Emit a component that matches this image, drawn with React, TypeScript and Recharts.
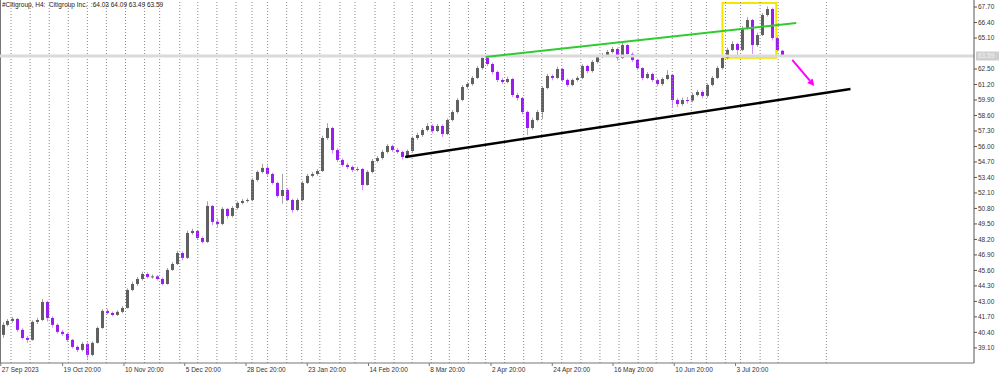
import React from "react";
import {
  ComposedChart,
  Bar,
  XAxis,
  YAxis,
  ReferenceLine,
  ReferenceArea,
} from "recharts";

// ---- Candle data (H4, Citigroup) ----
const opens = [
  40.19, 41.03, 41.36, 41.53, 40.61, 39.93, 39.77, 41.28, 41.44, 42.95,
  41.61, 41.03, 40.44, 40.27, 39.77, 39.18, 38.93, 39.43, 38.51, 39.52,
  40.77, 42.2, 42.03, 41.86, 42.12, 42.45, 43.96, 44.46, 44.88, 45.3,
  45.05, 45.1, 44.88, 44.46, 45.64, 46.14, 47.06, 46.65, 48.74, 48.91,
  48.32, 47.99, 51.01, 49.67, 49.5, 50.76, 50.17, 50.84, 51.26, 51.43,
  51.51, 53.19, 53.86, 54.2, 53.69, 52.94, 51.85, 52.35, 51.51, 50.67,
  51.51, 52.94, 53.53, 53.69, 53.94, 56.71, 57.55, 55.7, 54.87, 54.45,
  54.28, 54.03, 54.11, 52.77, 53.86, 54.78, 55.03, 55.54, 56.04, 55.7,
  55.54, 55.12, 55.62, 56.71, 56.96, 57.38, 57.72, 57.3, 57.72, 57.05,
  58.22, 58.89, 59.9, 60.99, 61.24, 61.75, 62.58, 63.42, 62.92, 62.25,
  61.58, 61.41, 61.66, 60.32, 60.07, 58.89, 57.55, 58.22, 58.89, 60.91,
  61.91, 61.75, 62.5, 61.58, 61.16, 61.58, 61.75, 62.75, 62.33, 63.09,
  63.51, 63.68, 63.93, 64.18, 63.42, 64.51, 63.76, 63.26, 62.58, 61.75,
  62.08, 61.58, 61.24, 61.66, 62.0, 59.9, 59.56, 59.9, 59.85, 60.32,
  60.57, 60.24, 61.16, 61.75, 62.58, 63.42, 64.1, 64.6, 64.1, 65.94,
  66.61, 64.51, 65.35, 67.03, 67.53, 65.1, 64.03,
];
const highs = [
  41.25, 41.52, 41.7, 41.6, 40.75, 40.1, 41.4, 41.62, 43.2, 43.05,
  41.75, 41.15, 40.6, 40.35, 39.85, 39.3, 39.6, 39.55, 39.65, 40.9,
  42.35, 42.4, 42.15, 42.25, 42.6, 44.1, 44.65, 45.05, 45.5, 45.45,
  45.25, 45.2, 45.0, 45.8, 46.3, 47.25, 47.2, 48.95, 49.1, 49.0,
  48.45, 51.4, 51.1, 49.9, 50.9, 50.85, 51.0, 51.4, 51.6, 51.65,
  53.35, 54.0, 54.55, 54.4, 53.8, 53.05, 53.7, 52.5, 51.6, 51.65,
  53.1, 53.7, 53.85, 54.1, 56.9, 57.95, 57.65, 55.85, 55.0, 54.6,
  54.4, 54.3, 54.2, 54.0, 54.95, 55.2, 55.7, 56.2, 56.15, 55.85,
  55.65, 55.75, 56.85, 57.15, 57.55, 57.95, 57.85, 57.9, 57.85, 58.35,
  59.05, 60.05, 61.15, 61.4, 61.9, 62.75, 63.7, 63.55, 63.05, 62.35,
  61.75, 61.85, 61.75, 60.5, 60.15, 59.0, 58.4, 59.05, 61.05, 62.1,
  62.05, 62.7, 62.6, 61.7, 61.7, 61.9, 62.9, 62.85, 63.25, 63.65,
  63.85, 64.1, 64.35, 64.3, 64.8, 64.6, 63.9, 63.35, 62.65, 62.25,
  62.2, 61.7, 61.8, 62.4, 62.1, 60.05, 60.1, 60.15, 60.5, 60.75,
  60.7, 61.3, 61.9, 62.75, 63.6, 64.3, 64.85, 64.7, 66.1, 66.85,
  66.7, 65.55, 67.2, 67.75, 67.65, 65.25, 64.09,
];
const lows = [
  39.95, 40.9, 41.2, 40.45, 39.8, 39.55, 39.7, 41.1, 41.35, 41.3,
  40.8, 40.3, 40.1, 39.6, 39.05, 38.75, 38.8, 38.2, 38.4, 39.45,
  40.7, 41.9, 41.75, 41.78, 42.0, 42.4, 43.85, 44.3, 44.75, 44.9,
  44.9, 44.75, 44.35, 44.4, 45.55, 46.05, 46.45, 46.55, 48.6, 48.15,
  47.85, 47.9, 49.4, 49.2, 49.4, 49.95, 50.05, 50.7, 51.15, 51.3,
  51.4, 53.05, 53.75, 53.55, 52.8, 51.7, 51.2, 51.4, 50.45, 50.55,
  51.4, 52.85, 53.4, 53.55, 53.85, 56.55, 55.4, 54.7, 54.3, 54.1,
  53.85, 53.9, 52.35, 52.7, 53.75, 54.65, 54.9, 55.4, 55.55, 55.4,
  54.9, 55.0, 55.55, 56.55, 56.8, 57.25, 57.1, 57.2, 56.8, 56.95,
  58.1, 58.75, 59.8, 60.85, 61.1, 61.65, 62.45, 62.75, 62.05, 61.4,
  61.25, 61.3, 60.15, 59.85, 58.7, 56.95, 57.4, 58.1, 58.3, 60.8,
  61.55, 61.65, 61.4, 61.0, 61.05, 61.45, 61.65, 62.15, 62.2, 62.95,
  63.4, 63.55, 63.8, 63.2, 63.35, 63.6, 63.1, 62.4, 61.55, 61.65,
  61.4, 61.05, 61.1, 61.55, 59.25, 59.3, 59.4, 59.6, 59.7, 60.2,
  60.05, 60.1, 61.05, 61.65, 62.45, 63.3, 64.0, 63.55, 64.0, 65.8,
  63.75, 64.35, 65.25, 66.9, 64.9, 63.95, 63.49,
];
const closes = [
  41.03, 41.36, 41.53, 40.61, 39.93, 39.77, 41.28, 41.44, 42.95, 41.61,
  41.03, 40.44, 40.27, 39.77, 39.18, 38.93, 39.43, 38.51, 39.52, 40.77,
  42.2, 42.03, 41.86, 42.12, 42.45, 43.96, 44.46, 44.88, 45.3, 45.05,
  45.1, 44.88, 44.46, 45.64, 46.14, 47.06, 46.65, 48.74, 48.91, 48.32,
  47.99, 51.01, 49.67, 49.5, 50.76, 50.17, 50.84, 51.26, 51.43, 51.51,
  53.19, 53.86, 54.2, 53.69, 52.94, 51.85, 52.35, 51.51, 50.67, 51.51,
  52.94, 53.53, 53.69, 53.94, 56.71, 57.55, 55.7, 54.87, 54.45, 54.28,
  54.03, 54.11, 52.77, 53.86, 54.78, 55.03, 55.54, 56.04, 55.7, 55.54,
  55.12, 55.62, 56.71, 56.96, 57.38, 57.72, 57.3, 57.72, 57.05, 58.22,
  58.89, 59.9, 60.99, 61.24, 61.75, 62.58, 63.42, 62.92, 62.25, 61.58,
  61.41, 61.66, 60.32, 60.07, 58.89, 57.55, 58.22, 58.89, 60.91, 61.91,
  61.75, 62.5, 61.58, 61.16, 61.58, 61.75, 62.75, 62.33, 63.09, 63.51,
  63.68, 63.93, 64.18, 63.42, 64.51, 63.76, 63.26, 62.58, 61.75, 62.08,
  61.58, 61.24, 61.66, 62.0, 59.9, 59.56, 59.9, 59.85, 60.32, 60.57,
  60.24, 61.16, 61.75, 62.58, 63.42, 64.1, 64.6, 64.1, 65.94, 66.61,
  64.51, 65.35, 67.03, 67.53, 65.1, 64.1, 63.59,
];

// total bar slots on the time axis (data + empty space on the right)
const totalSlots = 195;

// time axis labels and their positions (in bar slots)
const timeLabels = [
  "27 Sep 2023", "19 Oct 20:00", "10 Nov 20:00", "5 Dec 20:00", "28 Dec 20:00",
  "23 Jan 20:00", "14 Feb 20:00", "8 Mar 20:00", "2 Apr 20:00", "24 Apr 20:00",
  "16 May 20:00", "10 Jun 20:00", "3 Jul 20:00",
];
const timeTicks = [0.15, 12.47, 24.7, 36.8, 49.0, 61.2, 73.4, 85.5, 97.8, 110.0, 122.1, 134.3, 146.5];

// vertical dotted grid (period separators), in bar slots
const gridSlots = [
  2.2, 6.0, 9.8, 13.6, 17.4, 21.2, 25.0, 28.8, 31.8, 35.8, 39.4, 43.2, 47.0, 50.2,
  53.3, 57.1, 60.1, 63.7, 67.7, 70.7, 74.7, 78.5, 82.1, 85.9, 89.5, 93.3, 96.7,
  100.5, 104.3, 107.9, 111.9, 115.7, 119.5, 123.3, 127.1, 130.7, 133.9, 137.7,
  140.7, 144.5, 147.5, 151.4, 155.0, 164.6,
];

// price axis
const priceTicks = [
  39.1, 40.4, 41.7, 43.0, 44.3, 45.6, 46.9, 48.2, 49.5, 50.8, 52.1, 53.4, 54.7,
  56.0, 57.3, 58.6, 59.9, 61.2, 62.5, 65.1, 66.4, 67.7,
];
const priceDomain = [37.83, 68.29];
const lastPrice = 63.59;

// drawn annotations (slot, price)
const greenLine = [{ x: 96.7, y: 63.51 }, { x: 158.6, y: 66.36 }];
const blackLine = [{ x: 80.7, y: 55.12 }, { x: 169.4, y: 60.82 }];
const yellowBox = { x1: 143.9, x2: 154.6, y1: 63.45, y2: 68.04 };
const arrowLine = [{ x: 157.8, y: 63.26 }, { x: 162.2, y: 61.07 }];

const rows = Array.from({ length: totalSlots }, (_, i) =>
  i < closes.length
    ? { slot: i, open: opens[i], high: highs[i], low: lows[i], close: closes[i] }
    : { slot: i, open: null, high: null, low: null, close: null }
);

const FONT = "'Liberation Sans', Arial, sans-serif";

const Candle = (props: any) => {
  const { x, y, width, height, payload } = props;
  if (!payload || payload.open == null || !isFinite(y) || !isFinite(height)) return null;
  const { open, close, high, low } = payload;
  const top = Math.min(y, y + height);
  const h = Math.abs(height);
  const span = high - low || 1;
  const toY = (v: number) => top + ((high - v) / span) * h;
  const up = close >= open;
  const cx = Math.round(x + width / 2) + 0.5;
  const bTop = toY(Math.max(open, close));
  const bBot = toY(Math.min(open, close));
  return (
    <g>
      <line x1={cx} x2={cx} y1={top} y2={top + h} stroke={up ? "#a3a3a3" : "#cf8dff"} strokeWidth={1} />
      <rect
        x={cx - 1.5}
        y={bTop}
        width={3}
        height={Math.max(1, bBot - bTop)}
        fill={up ? "#606060" : "#9a1cf0"}
      />
    </g>
  );
};

const TimeTick = (props: any) => {
  const { x, y, payload } = props;
  const idx = timeTicks.indexOf(payload.value);
  const label = idx >= 0 ? timeLabels[idx] : "";
  return (
    <g>
      <line x1={x} x2={x} y1={y} y2={y + 3} stroke="#777" />
      <text x={x + 1} y={y + 9} fontSize={6.5} fontFamily={FONT} fill="#333" textAnchor="start">
        {label}
      </text>
    </g>
  );
};

const PriceTag = (props: any) => {
  const vb = props.viewBox || {};
  const right = (vb.x || 0) + (vb.width || 0);
  const yy = vb.y || 0;
  return (
    <g>
      <rect x={right + 2} y={yy - 4.5} width={23} height={9} fill="#cfcfcf" />
      <text x={right + 4} y={yy + 2.3} fontSize={6.5} fontFamily={FONT} fill="#f3f3f3">
        {lastPrice.toFixed(2)}
      </text>
    </g>
  );
};

const Arrow = (props: any) => {
  const { x1, y1, x2, y2 } = props;
  if (![x1, y1, x2, y2].every((v) => isFinite(v))) return null;
  const ang = Math.atan2(y2 - y1, x2 - x1);
  const L = 7;
  const W = 3.5;
  const bx = x2 - L * Math.cos(ang);
  const by = y2 - L * Math.sin(ang);
  const px = -Math.sin(ang) * W;
  const py = Math.cos(ang) * W;
  return (
    <g>
      <line x1={x1} y1={y1} x2={bx} y2={by} stroke="#ff00ff" strokeWidth={2} />
      <polygon points={`${x2},${y2} ${bx + px},${by + py} ${bx - px},${by - py}`} fill="#ff00ff" />
    </g>
  );
};

export default function App() {
  return (
    <div style={{ position: "absolute", left: 0, top: 0, width: 1000, height: 375, background: "#fff" }}>
      <ComposedChart
        width={1000}
        height={375}
        data={rows}
        margin={{ top: 0, right: 0, bottom: 0, left: 0 }}
        barCategoryGap={0}
      >
        <XAxis
          xAxisId="t"
          type="number"
          domain={[0, totalSlots]}
          allowDataOverflow
          ticks={timeTicks}
          interval={0}
          height={12}
          tickSize={0}
          tickMargin={0}
          tickLine={false}
          axisLine={{ stroke: "#777" }}
          tick={<TimeTick />}
        />
        <XAxis dataKey="slot" type="category" hide height={0} />
        <YAxis
          orientation="right"
          type="number"
          domain={priceDomain}
          allowDataOverflow
          ticks={priceTicks}
          interval={0}
          width={26}
          tickSize={3}
          tickMargin={1}
          axisLine={{ stroke: "#555" }}
          tickLine={{ stroke: "#555" }}
          tick={{ fontSize: 6.5, fontFamily: FONT, fill: "#333" }}
          tickFormatter={(v: number) => v.toFixed(2)}
        />
        {gridSlots.map((g) => (
          <ReferenceLine key={"g" + g} xAxisId="t" x={g} stroke="#8a8a8a" strokeDasharray="1 2" />
        ))}
        <ReferenceLine xAxisId="t" x={0.1} stroke="#777" />
        <ReferenceLine y={lastPrice} stroke="#dadada" strokeWidth={3} label={(p: any) => <PriceTag {...p} />} />
        <Bar
          dataKey={(d: any) => (d.open == null ? null : [d.low, d.high])}
          shape={<Candle />}
          isAnimationActive={false}
        />
        <ReferenceLine xAxisId="t" segment={greenLine} stroke="#2fcc2f" strokeWidth={2} />
        <ReferenceLine xAxisId="t" segment={blackLine} stroke="#000" strokeWidth={2.5} />
        <ReferenceArea
          xAxisId="t"
          x1={yellowBox.x1}
          x2={yellowBox.x2}
          y1={yellowBox.y1}
          y2={yellowBox.y2}
          fill="none"
          fillOpacity={0}
          stroke="#f5e600"
          strokeWidth={2}
        />
        <ReferenceLine xAxisId="t" segment={arrowLine} shape={(p: any) => <Arrow {...p} />} />
      </ComposedChart>
      <div
        style={{
          position: "absolute",
          left: 2,
          top: 1,
          fontSize: 6.5,
          fontFamily: FONT,
          color: "#222",
          whiteSpace: "pre",
          lineHeight: "8px",
        }}
      >
        {"#Citigroup, H4:  Citigroup Inc.  :64.03 64.09 63.49 63.59"}
      </div>
    </div>
  );
}
